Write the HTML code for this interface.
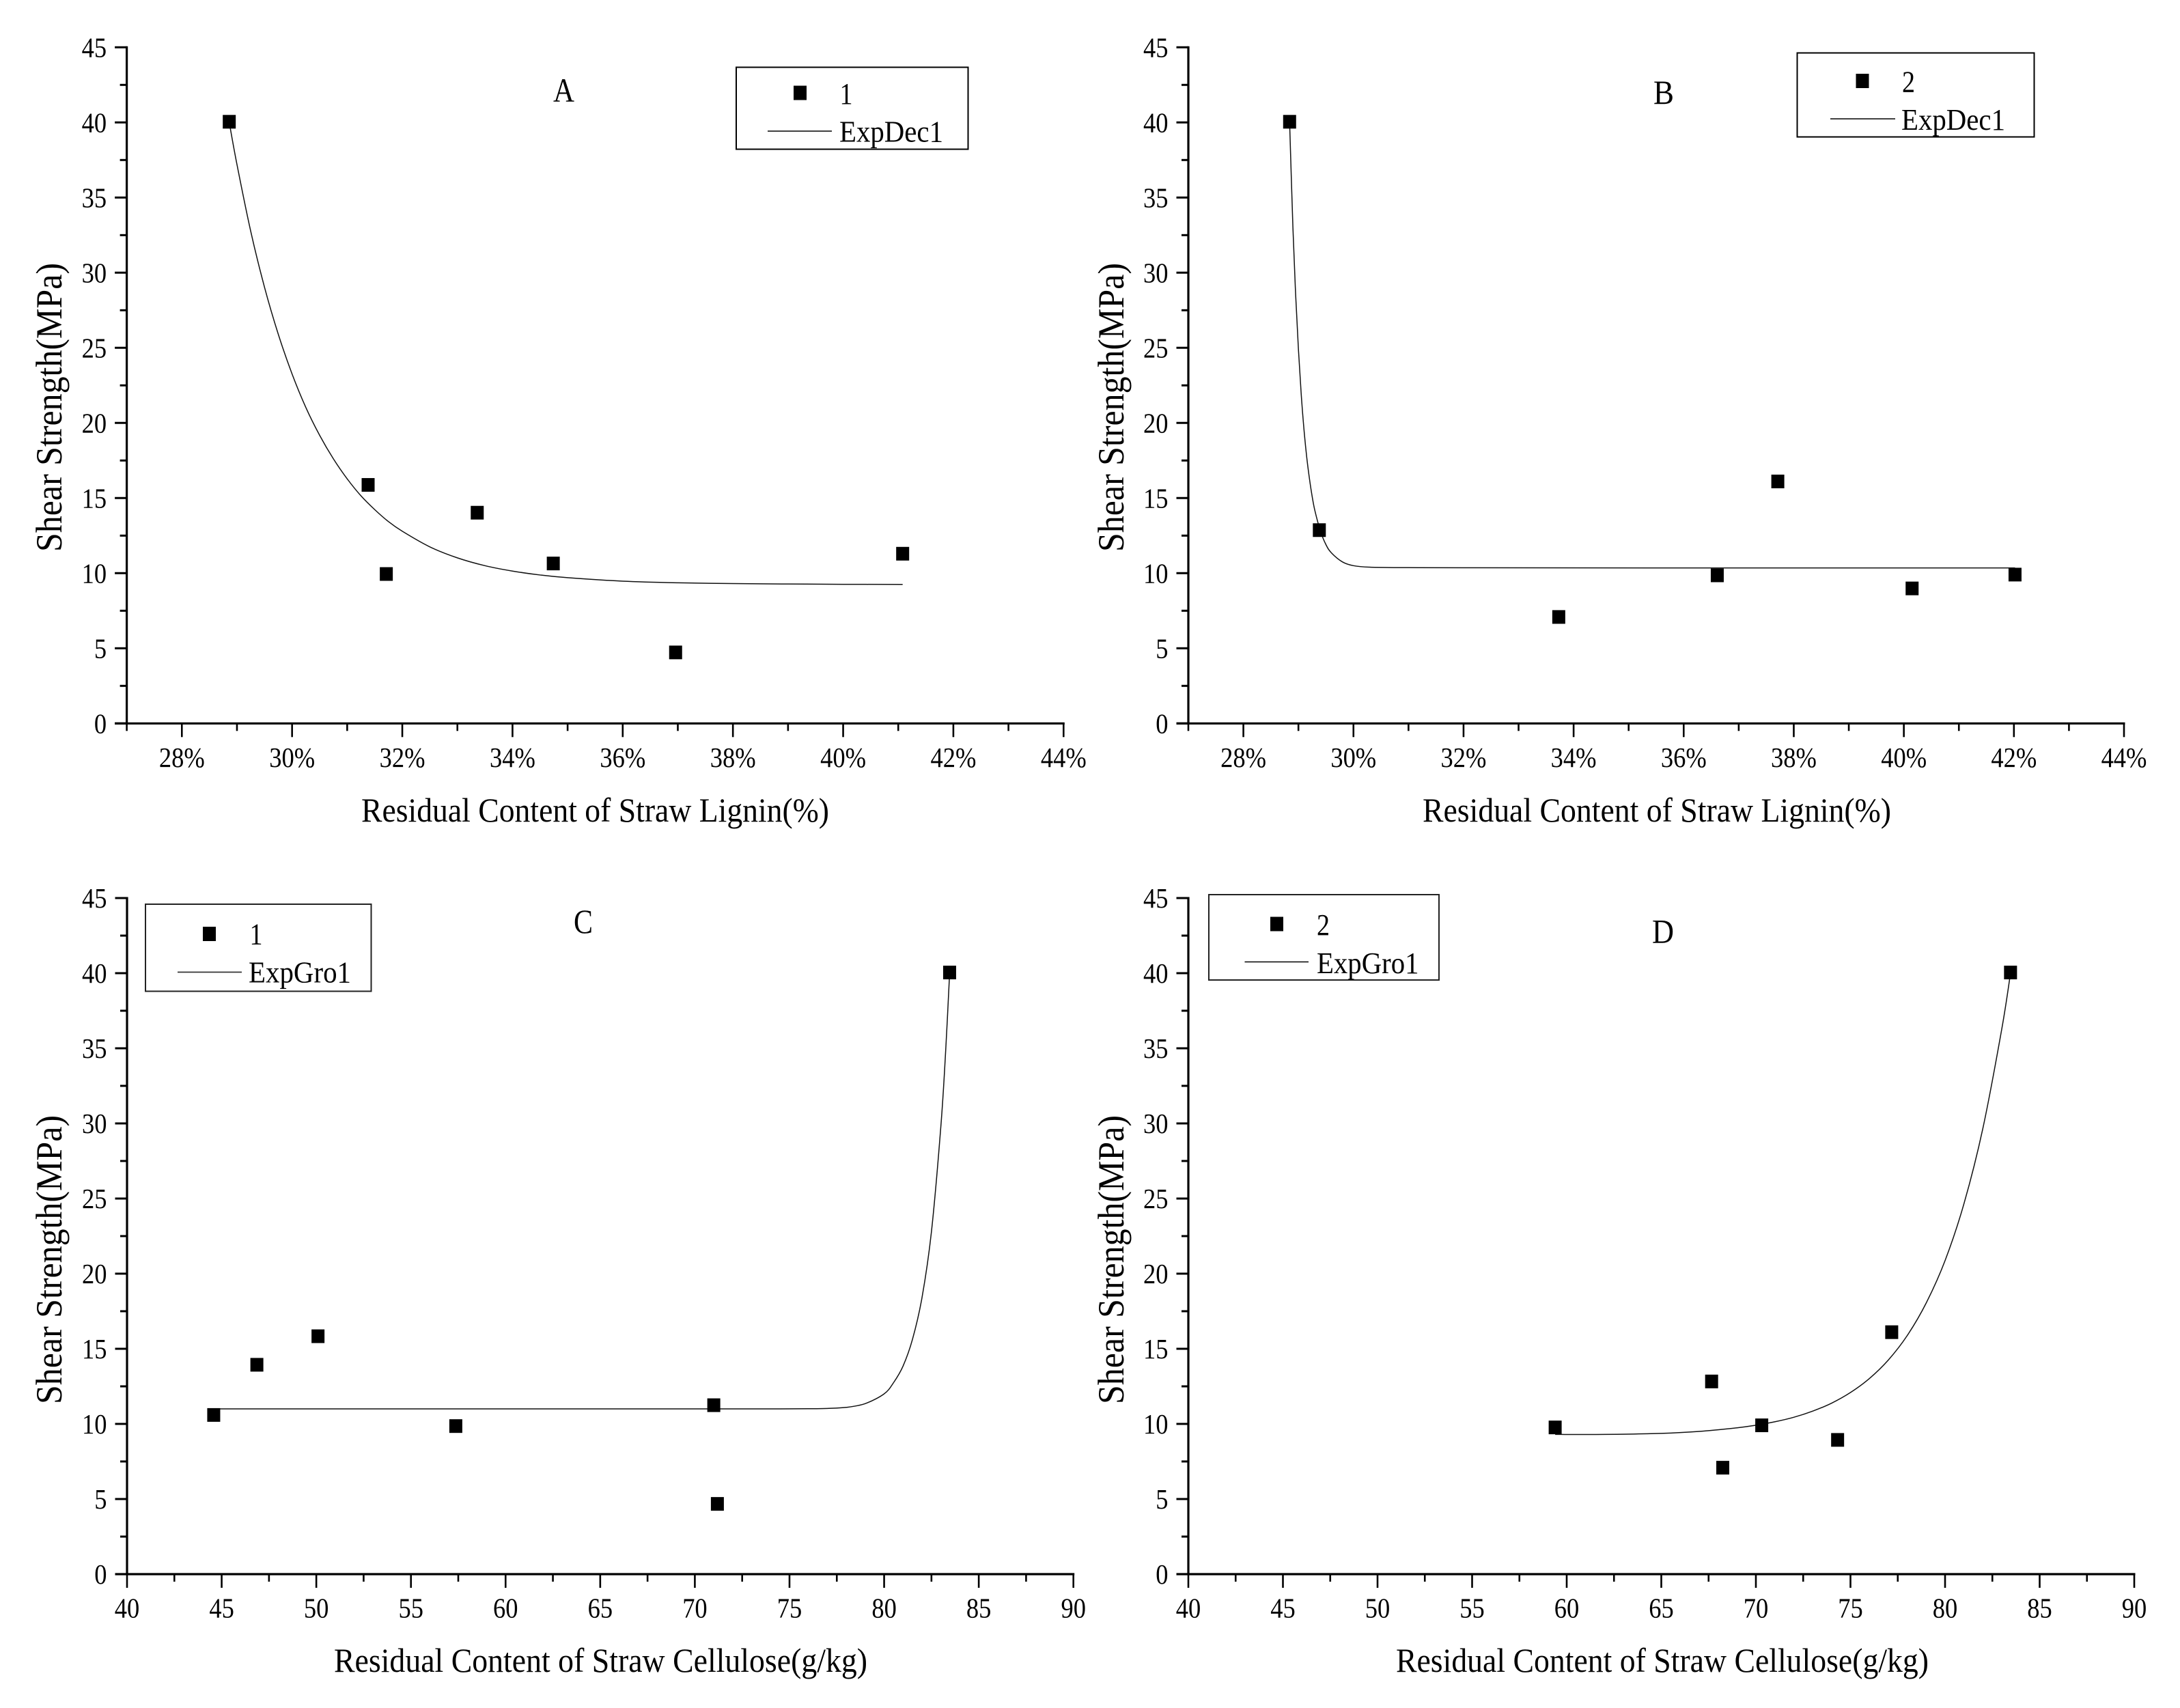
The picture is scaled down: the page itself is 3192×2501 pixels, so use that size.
<!DOCTYPE html>
<html lang="en">
<head>
<meta charset="utf-8">
<title>Shear Strength vs Residual Content</title>
<style>
html,body{margin:0;padding:0;background:#fff;}
svg{display:block;}
text{font-family:"Liberation Serif",serif;fill:#000;}
</style>
</head>
<body>
<svg id="figure" xmlns="http://www.w3.org/2000/svg" width="3192" height="2501" viewBox="0 0 3192 2501">
<rect width="3192" height="2501" fill="#fff"/>

<g id="panel-a">
  <text x="810" y="149" font-size="50" textLength="31" lengthAdjust="spacingAndGlyphs">A</text>
  <text transform="translate(90,808) rotate(-90)" font-size="53.5" textLength="423" lengthAdjust="spacingAndGlyphs">Shear Strength(MPa)</text>
  <text x="529" y="1203" font-size="50" textLength="685" lengthAdjust="spacingAndGlyphs">Residual Content of Straw Lignin(%)</text>
  <g>
    <rect x="1078" y="98.5" width="339.5" height="120" fill="none" stroke="#000" stroke-width="2"/>
    <rect x="1162" y="125.5" width="19" height="21" fill="#000"/>
    <text x="1229.5" y="152" font-size="44.5" textLength="19" lengthAdjust="spacingAndGlyphs">1</text>
    <line x1="1124" y1="192" x2="1218" y2="192" stroke="#000" stroke-width="1.5"/>
    <text x="1229" y="207.5" font-size="44.5" textLength="152" lengthAdjust="spacingAndGlyphs">ExpDec1</text>
  </g>
</g>

<g id="panel-b">
  <text x="2421" y="152" font-size="50" textLength="30" lengthAdjust="spacingAndGlyphs">B</text>
  <text transform="translate(1645,808) rotate(-90)" font-size="53.5" textLength="423" lengthAdjust="spacingAndGlyphs">Shear Strength(MPa)</text>
  <text x="2083" y="1203" font-size="50" textLength="686" lengthAdjust="spacingAndGlyphs">Residual Content of Straw Lignin(%)</text>
  <g>
    <rect x="2631.5" y="77.5" width="347" height="123" fill="none" stroke="#000" stroke-width="2"/>
    <rect x="2717.5" y="108" width="19" height="21" fill="#000"/>
    <text x="2785" y="134.5" font-size="44.5" textLength="19" lengthAdjust="spacingAndGlyphs">2</text>
    <line x1="2680" y1="174" x2="2775" y2="174" stroke="#000" stroke-width="1.5"/>
    <text x="2784" y="190" font-size="44.5" textLength="152" lengthAdjust="spacingAndGlyphs">ExpDec1</text>
  </g>
</g>

<g id="panel-c">
  <text x="840" y="1366" font-size="50" textLength="28" lengthAdjust="spacingAndGlyphs">C</text>
  <text transform="translate(90,2056) rotate(-90)" font-size="53.5" textLength="423" lengthAdjust="spacingAndGlyphs">Shear Strength(MPa)</text>
  <text x="489" y="2448" font-size="50" textLength="781" lengthAdjust="spacingAndGlyphs">Residual Content of Straw Cellulose(g/kg)</text>
  <g>
    <rect x="213" y="1324" width="330.5" height="127.5" fill="none" stroke="#222" stroke-width="2"/>
    <rect x="297" y="1357" width="19" height="21" fill="#000"/>
    <text x="365.5" y="1382.5" font-size="44.5" textLength="19" lengthAdjust="spacingAndGlyphs">1</text>
    <line x1="260" y1="1423.5" x2="354" y2="1423.5" stroke="#333" stroke-width="1.8"/>
    <text x="364" y="1438.5" font-size="44.5" textLength="150" lengthAdjust="spacingAndGlyphs">ExpGro1</text>
  </g>
</g>

<g id="panel-d">
  <text x="2419" y="1380.5" font-size="50" textLength="32" lengthAdjust="spacingAndGlyphs">D</text>
  <text transform="translate(1645,2056) rotate(-90)" font-size="53.5" textLength="423" lengthAdjust="spacingAndGlyphs">Shear Strength(MPa)</text>
  <text x="2044" y="2448" font-size="50" textLength="780" lengthAdjust="spacingAndGlyphs">Residual Content of Straw Cellulose(g/kg)</text>
  <g>
    <rect x="1770" y="1310" width="337" height="125" fill="none" stroke="#222" stroke-width="2"/>
    <rect x="1860" y="1342.5" width="19" height="21" fill="#000"/>
    <text x="1928" y="1369" font-size="44.5" textLength="19" lengthAdjust="spacingAndGlyphs">2</text>
    <line x1="1822.5" y1="1408.5" x2="1916" y2="1408.5" stroke="#000" stroke-width="1.5"/>
    <text x="1928" y="1425" font-size="44.5" textLength="149.5" lengthAdjust="spacingAndGlyphs">ExpGro1</text>
  </g>
</g>
</svg>

<script>
// ---- Shared axis data ----
const yDomain = [0, 45];
const yMajorTicks = [0, 5, 10, 15, 20, 25, 30, 35, 40, 45];
const yTickLabels = ['0', '5', '10', '15', '20', '25', '30', '35', '40', '45'];
const yMinorTicks = [2.5, 7.5, 12.5, 17.5, 22.5, 27.5, 32.5, 37.5, 42.5];

const ligninDomain = [27, 44];
const ligninMajorTicks = [28, 30, 32, 34, 36, 38, 40, 42, 44];
const ligninTickLabels = ['28%', '30%', '32%', '34%', '36%', '38%', '40%', '42%', '44%'];
const ligninMinorTicks = [27, 29, 31, 33, 35, 37, 39, 41, 43];

const celluloseDomain = [40, 90];
const celluloseMajorTicks = [40, 45, 50, 55, 60, 65, 70, 75, 80, 85, 90];
const celluloseTickLabels = ['40', '45', '50', '55', '60', '65', '70', '75', '80', '85', '90'];
const celluloseMinorTicks = [42.5, 47.5, 52.5, 57.5, 62.5, 67.5, 72.5, 77.5, 82.5, 87.5];

// ---- Panel A ----
const pointsAX = [28.86, 31.38, 31.71, 33.36, 34.74, 36.96, 41.08];
const pointsAY = [40.0, 15.83, 9.9, 13.98, 10.6, 4.68, 11.25];
const fitAX = [28.86, 29, 29.25, 29.5, 29.75, 30, 30.25, 30.5, 30.75, 31, 31.25, 31.5, 31.75, 32, 32.5, 33, 33.5, 34, 34.5, 35, 36, 37, 38, 39, 40, 41.08];
const fitAY = [40, 37.2, 32.75, 29.03, 25.9, 23.26, 21.03, 19.18, 17.61, 16.28, 15.15, 14.23, 13.43, 12.79, 11.75, 11.02, 10.5, 10.14, 9.88, 9.7, 9.47, 9.36, 9.31, 9.28, 9.26, 9.25];

// ---- Panel B ----
const pointsBX = [28.84, 29.38, 33.73, 36.61, 37.71, 40.15, 42.02];
const pointsBY = [40.0, 12.82, 7.04, 9.81, 16.06, 8.94, 9.86];
const fitBX = [28.84, 28.9, 28.95, 29, 29.05, 29.1, 29.15, 29.2, 29.25, 29.3, 29.4, 29.5, 29.6, 29.8, 30, 30.3, 31, 32, 36, 42.02];
const fitBY = [40, 33.0, 28.5, 24.9, 21.95, 19.6, 17.75, 16.3, 15.1, 14.15, 12.8, 11.9, 11.35, 10.75, 10.5, 10.4, 10.37, 10.36, 10.35, 10.35];

// ---- Panel C ----
const pointsCX = [44.58, 46.86, 50.09, 57.37, 71.0, 71.19, 83.46];
const pointsCY = [10.55, 13.89, 15.79, 9.81, 11.2, 4.63, 40.0];
const fitCX = [44.58, 50, 60, 70, 74, 76, 77, 78, 79, 80, 80.5, 81, 81.5, 82, 82.5, 83, 83.25, 83.46];
const fitCY = [11, 11, 11, 11, 11.0, 11.01, 11.03, 11.1, 11.35, 12.0, 12.75, 13.85, 15.64, 18.4, 22.8, 29.85, 34.8, 40];

// ---- Panel D ----
const pointsDX = [59.39, 67.66, 68.25, 70.31, 74.32, 77.18, 83.46];
const pointsDY = [9.72, 12.78, 7.04, 9.86, 8.89, 16.06, 40.0];
const fitDX = [59.39, 62, 65, 67, 69, 70, 71, 72, 73, 74, 75, 76, 77, 78, 79, 80, 81, 82, 83, 83.46];
const fitDY = [9.3, 9.3, 9.37, 9.5, 9.74, 9.91, 10.14, 10.44, 10.85, 11.38, 12.09, 13.02, 14.25, 15.88, 18.04, 20.87, 24.66, 29.68, 36.3, 40];

const SVG_NS = 'http://www.w3.org/2000/svg';

function linearScale(domain, r0, r1) {
  return function (v) {
    return r0 + (v - domain[0]) / (domain[1] - domain[0]) * (r1 - r0);
  };
}

function newEl(tag, parent) {
  const el = document.createElementNS(SVG_NS, tag);
  parent.appendChild(el);
  return el;
}

function drawAxes(parent, sx, sy, cfg) {
  const left = sx(cfg.xDomain[0]);
  const right = sx(cfg.xDomain[1]);
  const bottom = sy(yDomain[0]);
  const top = sy(yDomain[1]);

  const yAxis = newEl('line', parent);
  
  
  yAxis.setAttribute('x1', left); yAxis.setAttribute('x2', left);
  yAxis.setAttribute('y1', top - 1.5); yAxis.setAttribute('y2', bottom + 1.5);
  yAxis.setAttribute('stroke', '#000'); yAxis.setAttribute('stroke-width', 3.2);

  const xAxis = newEl('line', parent);
  
  
  xAxis.setAttribute('x1', left - 17.5); xAxis.setAttribute('x2', right + 1.5);
  xAxis.setAttribute('y1', bottom); xAxis.setAttribute('y2', bottom);
  xAxis.setAttribute('stroke', '#000'); xAxis.setAttribute('stroke-width', 3.2);

  yMajorTicks.forEach(function (v, i) {
    const t = newEl('line', parent);
    
    
    t.setAttribute('x1', left - 17.5); t.setAttribute('x2', left);
    t.setAttribute('y1', sy(v)); t.setAttribute('y2', sy(v));
    t.setAttribute('stroke', '#000'); t.setAttribute('stroke-width', 3);

    const label = newEl('text', parent);
    
    
    label.setAttribute('transform', 'translate(' + (left - 29.5) + ',' + (sy(v) + 14) + ') scale(0.89,1)');
    label.setAttribute('text-anchor', 'end');
    label.setAttribute('font-size', 41);
    label.textContent = yTickLabels[i];
  });

  yMinorTicks.forEach(function (v) {
    const t = newEl('line', parent);
    
    
    t.setAttribute('x1', left - 10); t.setAttribute('x2', left);
    t.setAttribute('y1', sy(v)); t.setAttribute('y2', sy(v));
    t.setAttribute('stroke', '#000'); t.setAttribute('stroke-width', 3);
  });

  cfg.xMajor.forEach(function (v, i) {
    const t = newEl('line', parent);
    
    
    t.setAttribute('x1', sx(v)); t.setAttribute('x2', sx(v));
    t.setAttribute('y1', bottom); t.setAttribute('y2', bottom + 20);
    t.setAttribute('stroke', '#000'); t.setAttribute('stroke-width', 2.6);

    const label = newEl('text', parent);
    
    
    label.setAttribute('transform', 'translate(' + sx(v) + ',' + (bottom + 63.5) + ') scale(0.89,1)');
    label.setAttribute('text-anchor', 'middle');
    label.setAttribute('font-size', 41);
    label.textContent = cfg.xLabels[i];
  });

  cfg.xMinor.forEach(function (v) {
    const t = newEl('line', parent);
    
    
    t.setAttribute('x1', sx(v)); t.setAttribute('x2', sx(v));
    t.setAttribute('y1', bottom); t.setAttribute('y2', bottom + 11);
    t.setAttribute('stroke', '#000'); t.setAttribute('stroke-width', 2.6);
  });
}

function drawFit(parent, sx, sy, xs, ys) {
  const px = xs.map(sx);
  const py = ys.map(sy);
  let d = 'M' + px[0].toFixed(2) + ' ' + py[0].toFixed(2);
  for (let i = 0; i < px.length - 1; i++) {
    const i0 = Math.max(i - 1, 0);
    const i3 = Math.min(i + 2, px.length - 1);
    const c1x = px[i] + (px[i + 1] - px[i0]) / 6;
    const c1y = py[i] + (py[i + 1] - py[i0]) / 6;
    const c2x = px[i + 1] - (px[i3] - px[i]) / 6;
    const c2y = py[i + 1] - (py[i3] - py[i]) / 6;
    d += 'C' + c1x.toFixed(2) + ' ' + c1y.toFixed(2) + ' ' + c2x.toFixed(2) + ' ' + c2y.toFixed(2) + ' ' + px[i + 1].toFixed(2) + ' ' + py[i + 1].toFixed(2);
  }
  const path = newEl('path', parent);
  
  
  path.setAttribute('d', d);
  path.setAttribute('fill', 'none');
  path.setAttribute('stroke', '#111');
  path.setAttribute('stroke-width', 1.5);
}

function drawPoints(parent, sx, sy, xs, ys) {
  xs.forEach(function (x, i) {
    const m = newEl('rect', parent);
    
    
    m.setAttribute('x', sx(x) - 9.5);
    m.setAttribute('y', sy(ys[i]) - 11);
    m.setAttribute('width', 19);
    m.setAttribute('height', 20);
    m.setAttribute('fill', '#000');
  });
}

function drawPanel(id, layout, axis, ptsX, ptsY, fitX, fitY) {
  const parent = document.getElementById(id);
  const sx = linearScale(axis.xDomain, layout.left, layout.right);
  const sy = linearScale(yDomain, layout.bottom, layout.top);
  drawAxes(parent, sx, sy, axis);
  drawFit(parent, sx, sy, fitX, fitY);
  drawPoints(parent, sx, sy, ptsX, ptsY);
}

const ligninAxis = { xDomain: ligninDomain, xMajor: ligninMajorTicks, xLabels: ligninTickLabels, xMinor: ligninMinorTicks };
const celluloseAxis = { xDomain: celluloseDomain, xMajor: celluloseMajorTicks, xLabels: celluloseTickLabels, xMinor: celluloseMinorTicks };

drawPanel('panel-a', { left: 185.6, right: 1557.3, top: 69.3, bottom: 1059.3 }, ligninAxis, pointsAX, pointsAY, fitAX, fitAY);
drawPanel('panel-b', { left: 1740, right: 3110, top: 69.3, bottom: 1059.3 }, ligninAxis, pointsBX, pointsBY, fitBX, fitBY);
drawPanel('panel-c', { left: 186, right: 1571.7, top: 1315, bottom: 2305 }, celluloseAxis, pointsCX, pointsCY, fitCX, fitCY);
drawPanel('panel-d', { left: 1740, right: 3125, top: 1315, bottom: 2305 }, celluloseAxis, pointsDX, pointsDY, fitDX, fitDY);
</script>
</body>
</html>
